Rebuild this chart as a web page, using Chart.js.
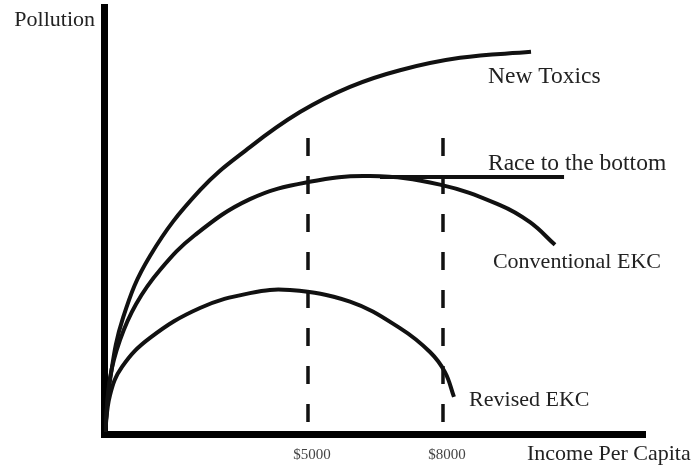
<!DOCTYPE html>
<html>
<head>
<meta charset="utf-8">
<script src="https://cdn.jsdelivr.net/npm/chart.js@4/dist/chart.umd.min.js"></script>
<style>
  body { margin: 0; background: #fff; }
  #wrap { width: 691px; height: 471px; }
</style>
</head>
<body>
<div id="wrap"><canvas id="ekcChart" width="691" height="471"></canvas></div>
<script>
// income per capita ($) and pollution (index)
const newToxicsX = [490, 600, 889, 1489, 2600, 3711, 4822, 5933, 7044, 8378, 9956];
const newToxicsY = [0.5, 12.6, 27.2, 41.7, 57.1, 67.2, 75.4, 81.3, 85.2, 88.1, 89.5];

const conventionalX = [490, 600, 822, 1178, 1711, 2489, 3711, 5000, 6378, 7933, 9267, 9933, 10489];
const conventionalY = [0.5, 13.1, 22.0, 30.4, 38.4, 46.6, 55.0, 59.0, 60.4, 58.4, 53.6, 49.6, 44.3];

const revisedX = [490, 600, 867, 1489, 2600, 3711, 4600, 5933, 7044, 7711, 8044, 8244];
const revisedY = [0.5, 9.1, 15.7, 22.5, 29.5, 33.0, 33.7, 31.0, 24.8, 19.2, 14.5, 8.7];

const raceX = [6600, 10690];
const raceY = [60.2, 60.2];

const thresholds = [5000, 8000];
const thresholdTop = 69.3;
const tickLabels = ['$5000', '$8000'];

const curveLabels = ['New Toxics', 'Race to the bottom', 'Conventional EKC', 'Revised EKC'];
const curveLabelX = [9000, 9000, 9110, 8580];
const curveLabelY = [82.2, 61.8, 38.9, 6.6];

const serif = "'Liberation Serif', 'Times New Roman', serif";

function pts(xs, ys) {
  return xs.map((x, i) => ({ x: x, y: ys[i] }));
}

const curveStyle = {
  borderColor: '#111',
  borderWidth: 4,
  pointRadius: 0,
  fill: false,
  tension: 0.4
};

let datasets = [
  Object.assign({ label: 'New Toxics', data: pts(newToxicsX, newToxicsY) }, curveStyle),
  Object.assign({ label: 'Conventional EKC', data: pts(conventionalX, conventionalY) }, curveStyle),
  Object.assign({ label: 'Revised EKC', data: pts(revisedX, revisedY) }, curveStyle),
  Object.assign({ label: 'Race to the bottom', data: pts(raceX, raceY) }, curveStyle, { tension: 0 })
];

thresholds.forEach(v => {
  datasets.push({
    label: 'threshold ' + v,
    data: [{ x: v, y: thresholdTop }, { x: v, y: 0 }],
    borderColor: '#111',
    borderWidth: 3.5,
    borderDash: [18, 20],
    pointRadius: 0,
    tension: 0,
    fill: false
  });
});

// text labels for curves and axes
const labelPlugin = {
  id: 'ekcLabels',
  afterDatasetsDraw(chart) {
    const ctx = chart.ctx;
    const xs = chart.scales.x, ys = chart.scales.y;
    const area = chart.chartArea;
    ctx.save();
    ctx.fillStyle = '#222';
    ctx.textBaseline = 'alphabetic';
    ctx.textAlign = 'left';
    curveLabels.forEach((t, i) => {
      const size = i < 2 ? 23.5 : 22;
      ctx.font = size + 'px ' + serif;
      ctx.fillText(t, xs.getPixelForValue(curveLabelX[i]), ys.getPixelForValue(curveLabelY[i]));
    });
    ctx.font = '22px ' + serif;
    ctx.textAlign = 'right';
    ctx.fillText('Pollution', area.left - 9, area.top + 19);
    ctx.textAlign = 'left';
    ctx.fillText('Income Per Capita', 527, area.bottom + 26);
    ctx.restore();
  }
};

new Chart(document.getElementById('ekcChart'), {
  type: 'line',
  data: { datasets: datasets },
  options: {
    responsive: false,
    animation: false,
    layout: { padding: { top: 7, right: 46, left: 0, bottom: 0 } },
    plugins: {
      legend: { display: false },
      tooltip: { enabled: false }
    },
    scales: {
      x: {
        type: 'linear',
        min: 467,
        max: 12489,
        afterBuildTicks: (scale) => {
          scale.ticks = thresholds.map(v => ({ value: v }));
        },
        afterFit: (scale) => { scale.height = 37; },
        grid: { display: false, drawTicks: false },
        border: { color: '#000', width: 7 },
        ticks: {
          autoSkip: false,
          maxRotation: 0,
          padding: 12,
          labelOffset: 4,
          color: '#444',
          font: { family: serif, size: 15 },
          callback: (v, i) => tickLabels[i]
        }
      },
      y: {
        type: 'linear',
        min: 0,
        max: 100,
        afterFit: (scale) => { scale.width = 104; },
        grid: { display: false, drawTicks: false },
        border: { color: '#000', width: 7 },
        ticks: { display: false }
      }
    }
  },
  plugins: [labelPlugin]
});
</script>
</body>
</html>
